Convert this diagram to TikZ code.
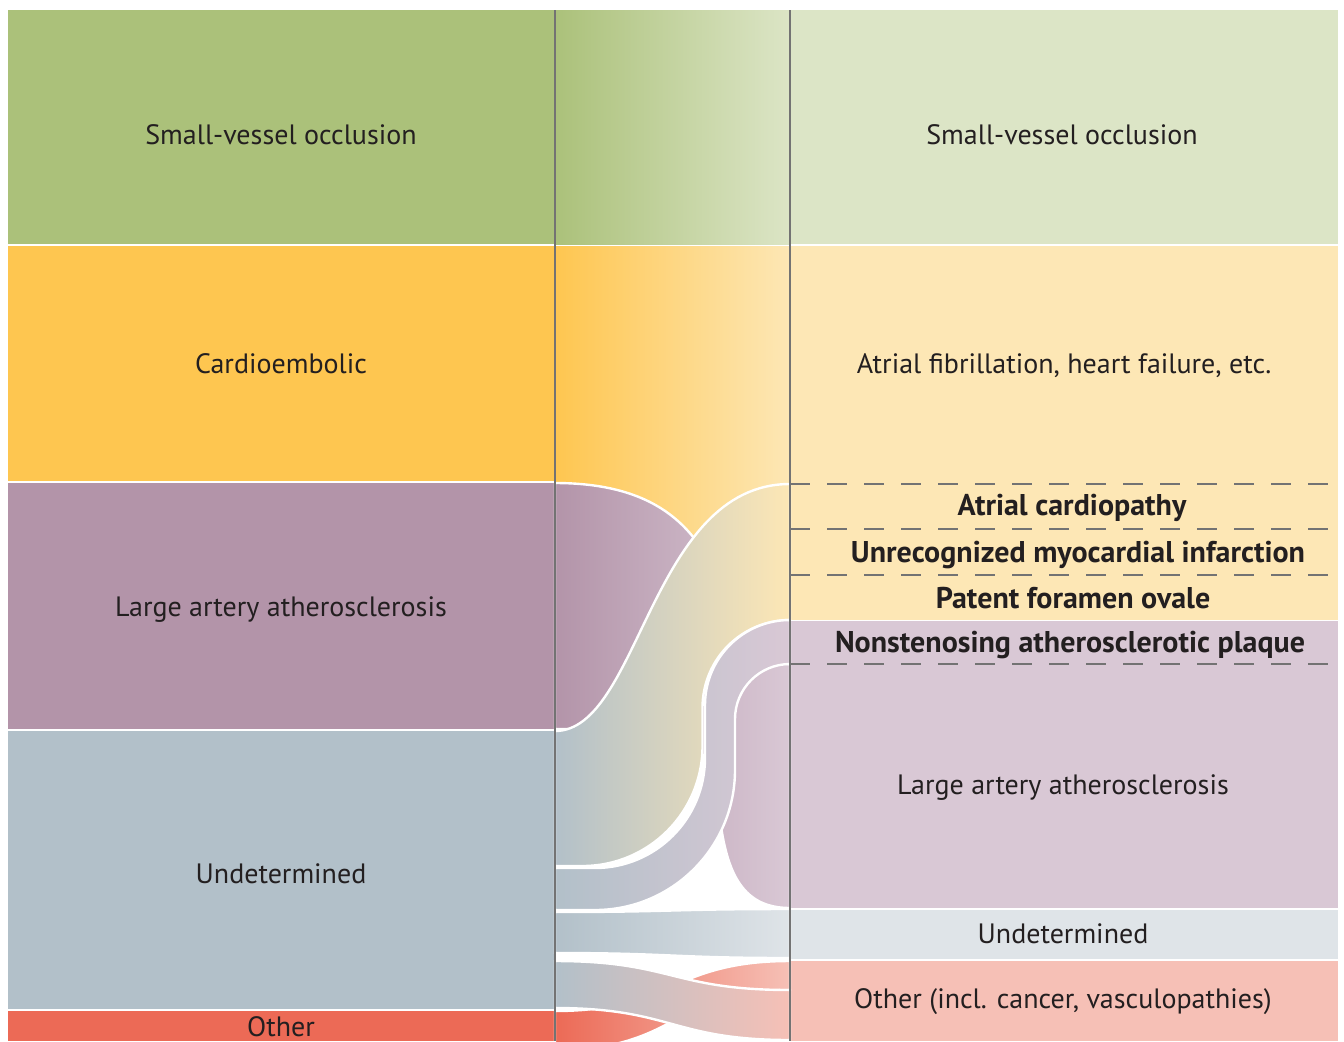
\documentclass[tikz,border=0pt]{standalone}
\usepackage{fontspec}
\setmainfont{PT Sans}
\definecolor{svo}{HTML}{ABC17A}
\definecolor{svoR}{HTML}{DCE5C6}
\definecolor{ce}{HTML}{FEC650}
\definecolor{ceR}{HTML}{FDE7B5}
\definecolor{laa}{HTML}{B394A9}
\definecolor{laaR}{HTML}{D9C8D5}
\definecolor{und}{HTML}{B2C0C9}
\definecolor{undR}{HTML}{DFE4E8}
\definecolor{oth}{HTML}{EC6A56}
\definecolor{othR}{HTML}{F6C0B6}
\definecolor{ink}{HTML}{231F20}
\definecolor{rule}{HTML}{737373}
\begin{document}
\begin{tikzpicture}[x=0.5pt,y=-0.5pt]
  \tikzset{ lbl/.style={anchor=base,text=ink,font=\fontsize{14}{17}\selectfont},
    sub/.style={anchor=base,text=ink,font=\fontsize{15}{18}\selectfont\bfseries},
    flow/.style={draw=white,line width=1.2pt},
    rowline/.style={rule,line width=0.8pt,dash pattern=on 10pt off 8.5pt},
  }
  \useasboundingbox (0,0) rectangle (1344,1041);

  % left column
  \fill[svo] (8,10) rectangle (555,244);
  \fill[ce] (8,246) rectangle (555,481);
  \fill[laa] (8,483) rectangle (555,729);
  \fill[und] (8,731) rectangle (555,1009);
  \fill[oth] (8,1011) rectangle (555,1041);

  % right column
  \fill[svoR] (790,10) rectangle (1338,244);
  \fill[ceR] (790,246) rectangle (1338,619.5);
  \fill[laaR] (790,621) rectangle (1338,908);
  \fill[undR] (790,910) rectangle (1338,959);
  \fill[othR] (790,961) rectangle (1338,1041);

  % flows
  \shade[left color=svo, middle color=svoR!85!svo, right color=svoR] (555,10) rectangle (790,244);
  \shade[left color=ce, middle color=ceR!85!ce, right color=ceR] (555,246) rectangle (790,560);
  \shadedraw[flow, left color=laa, right color=laaR]
    (555,483) .. controls (760,483) and (700,664) .. (790,664) -- (790,908)
    .. controls (740,908) and (724,870) .. (718,800)
    .. controls (712,740) and (690,729) .. (555,729) -- cycle;
  \shadedraw[flow, left color=und, right color=ceR]
    (555,731) .. controls (640,731) and (650,484) .. (790,484) -- (790,620)
    .. controls (741.7,620) and (702.5,659.2) .. (702.5,707.5) -- (702.5,746)
    .. controls (702.5,812.3) and (648.8,866) .. (582.5,866) -- (555,866) -- cycle;
  \shadedraw[flow, left color=und, right color=laaR]
    (555,868) -- (595,868) .. controls (655.75,868) and (705,818.75) .. (705,758)
    -- (705,705) .. controls (705,658.1) and (743.1,620) .. (790,620)
    -- (790,664) .. controls (759.6,664) and (735,688.6) .. (735,719)
    -- (735,770) .. controls (735,847.3) and (672.3,910) .. (595,910) -- (555,910) -- cycle;
  \shadedraw[flow, left color=und, right color=undR]
    (555,912) .. controls (672,912) and (672,909) .. (790,909) -- (790,958)
    .. controls (672,958) and (672,953) .. (555,953) -- cycle;
  \shadedraw[flow, left color=oth, right color=othR]
    (555,1011) .. controls (672,1011) and (672,961) .. (790,961) -- (790,990)
    .. controls (672,990) and (680,1050) .. (555,1050) -- cycle;
  \shadedraw[flow, left color=und, right color=othR]
    (555,961) .. controls (672,961) and (672,990) .. (790,990) -- (790,1040)
    .. controls (672,1040) and (672,1008) .. (555,1008) -- cycle;

  % rules
  \draw[rule, line width=1.1pt] (555,10) -- (555,1041);
  \draw[rule, line width=1.1pt] (790,10) -- (790,1041);
  \foreach \y in {484,529,575,664}
    \draw[rowline] (790,\y) -- (1338,\y);

  % labels
  \node[lbl] (svoA) at (281,144) {Small-vessel occlusion};
  \node[lbl] (ceA) at (281,373) {Cardioembolic};
  \node[lbl] (laaA) at (281,616) {Large artery atherosclerosis};
  \node[lbl] (undA) at (281,883) {Undetermined};
  \node[lbl] (othA) at (281,1036) {Other};
  \node[lbl] (svoB) at (1062,144) {Small-vessel occlusion};
  \node[lbl] (ceB) at (1064,373) {Atrial fibrillation, heart failure, etc.};
  \node[sub] (acB) at (1072,515) {Atrial cardiopathy};
  \node[sub] (miB) at (1078,562) {Unrecognized myocardial infarction};
  \node[sub] (pfoB) at (1073,608) {Patent foramen ovale};
  \node[sub] (nsB) at (1070,652) {Nonstenosing atherosclerotic plaque};
  \node[lbl] (laaB) at (1063,794) {Large artery atherosclerosis};
  \node[lbl] (undB) at (1063,943) {Undetermined};
  \node[lbl] (othB) at (1063,1008) {Other (incl. cancer, vasculopathies)};
\end{tikzpicture}
\end{document}
